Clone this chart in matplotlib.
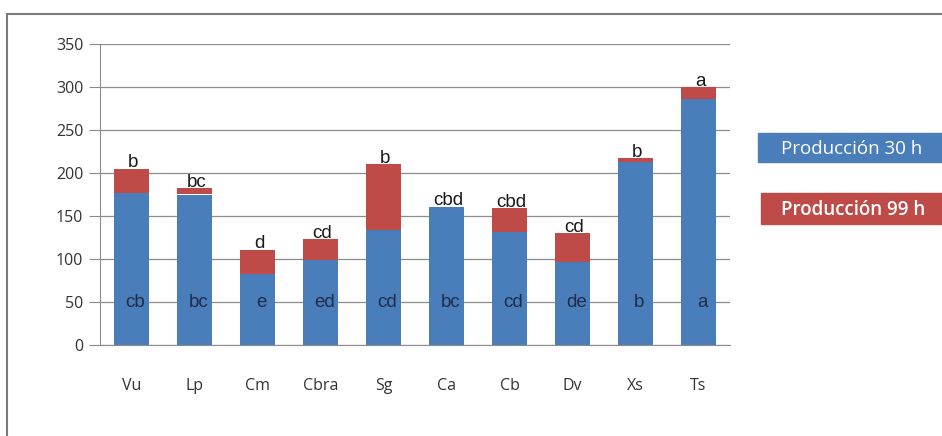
import numpy as np
import matplotlib.pyplot as plt
import matplotlib.patches as patches

especies = ['Vu', 'Lp', 'Cm', 'Cbra', 'Sg', 'Ca', 'Cb', 'Dv', 'Xs', 'Ts']
prod_30h = [177, 175, 83, 99, 134, 160, 131, 97, 213, 286]      # producción a las 30 h
prod_99h = [28, 7, 28, 24, 76, 1, 28, 33, 4, 14]                # incremento hasta las 99 h
letras_99h = ['b', 'bc', 'd', 'cd', 'b', 'cbd', 'cbd', 'cd', 'b', 'a']
letras_30h = ['cb', 'bc', 'e', 'ed', 'cd', 'bc', 'cd', 'de', 'b', 'a']

azul = '#4a7ebb'
rojo = '#be4b48'
gris = '#8c8c8c'

fig = plt.figure(figsize=(9.42, 4.36), dpi=100)
ax = fig.add_axes([100/942, 1 - 345/436, 630/942, 301/436])

x = np.arange(len(especies))
ax.bar(x, prod_30h, width=0.565, color=azul, zorder=2)
ax.bar(x, prod_99h, width=0.565, bottom=prod_30h, color=rojo, zorder=2)

# letras de significancia
for i in range(len(especies)):
    total = prod_30h[i] + prod_99h[i]
    ax.text(x[i] + 0.03, total - 3, letras_99h[i], ha='center', va='bottom',
            fontsize=13.5, family='Liberation Sans', color='#1a1a1a', zorder=3)
    ax.text(x[i] + 0.06, 49, letras_30h[i], ha='center', va='center',
            fontsize=13.5, family='Liberation Sans', color='#1f2d4a', zorder=3)

ax.set_xlim(-0.5, len(especies) - 0.5)
ax.set_ylim(0, 350)
ax.set_yticks(np.arange(0, 351, 50))
ax.set_xticks(x)
ax.set_xticklabels(especies)
ax.yaxis.grid(True, color=gris, linewidth=0.9, zorder=0)
for s in ['top', 'right']:
    ax.spines[s].set_visible(False)
ax.spines['left'].set_color(gris)
ax.spines['bottom'].set_color(gris)
ax.tick_params(axis='y', length=8, color=gris, labelsize=11.5, pad=4, labelcolor='#333333')
ax.tick_params(axis='x', length=0, labelsize=11.5, pad=24, labelcolor='#333333')
for t in ax.get_xticklabels() + ax.get_yticklabels():
    t.set_family('Open Sans')

# leyenda en cajas de color
fig.patches.append(patches.Rectangle((758/942, 1 - 162/436), 190/942, 29/436,
                                     transform=fig.transFigure, color=azul))
fig.patches.append(patches.Rectangle((761/942, 1 - 224/436), 190/942, 31/436,
                                     transform=fig.transFigure, color=rojo))
fig.text(852/942, 1 - 149/436, 'Producción 30 h', ha='center', va='center',
         color='white', fontsize=13.5, family='Open Sans')
fig.text(853/942, 1 - 210/436, 'Producción 99 h', ha='center', va='center',
         color='white', fontsize=13.5, family='Open Sans', weight='semibold')

# marco exterior
fig.patches.append(patches.Rectangle((7/942, -0.05), 1.0, 1 - 14/436 + 0.05,
                                     transform=fig.transFigure, fill=False,
                                     edgecolor='#7a7a7a', linewidth=1.5))

fig.savefig('out.png', dpi=100)
